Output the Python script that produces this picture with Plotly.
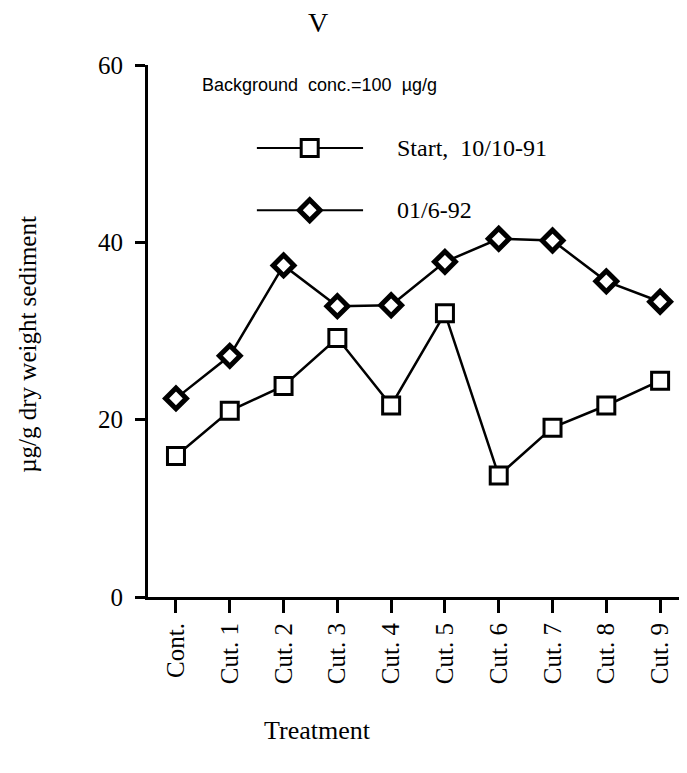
import plotly.graph_objects as go

categories = ["Cont.", "Cut. 1", "Cut. 2", "Cut. 3", "Cut. 4", "Cut. 5", "Cut. 6", "Cut. 7", "Cut. 8", "Cut. 9"]
start_vals = [15.9, 21.0, 23.8, 29.2, 21.6, 32.0, 13.7, 19.1, 21.6, 24.4]
june_vals = [22.4, 27.2, 37.4, 32.8, 32.9, 37.8, 40.4, 40.2, 35.6, 33.3]
series_names = ["Start,  10/10-91", "01/6-92"]
y_ticks = [0, 20, 40, 60]

serif = "Liberation Serif, Times New Roman, serif"
sans = "Liberation Sans, Arial, sans-serif"

xpos = list(range(len(categories)))

fig = go.Figure()
fig.add_trace(go.Scatter(
    x=xpos, y=start_vals, mode="lines+markers", name=series_names[0],
    line=dict(color="black", width=2.5),
    marker=dict(symbol="square", size=17, color="white", line=dict(color="black", width=3)),
    showlegend=False))
fig.add_trace(go.Scatter(
    x=xpos, y=june_vals, mode="lines+markers", name=series_names[1],
    line=dict(color="black", width=2.5),
    marker=dict(symbol="diamond", size=16, color="white", line=dict(color="black", width=5)),
    showlegend=False))

# custom legend samples on an overlay axis (0..1 fractions of the plot area)
leg_y = [0.844, 0.727]
symbols = ["square", "diamond"]
msize = [17, 16]
mlw = [3, 5]
for i in range(2):
    fig.add_trace(go.Scatter(
        x=[0.202, 0.399], y=[leg_y[i], leg_y[i]], mode="lines",
        line=dict(color="black", width=2), xaxis="x2", yaxis="y2",
        showlegend=False, hoverinfo="skip"))
    fig.add_trace(go.Scatter(
        x=[0.300], y=[leg_y[i]], mode="markers",
        marker=dict(symbol=symbols[i], size=msize[i], color="white", line=dict(color="black", width=mlw[i])),
        xaxis="x2", yaxis="y2", showlegend=False, hoverinfo="skip"))
    fig.add_annotation(x=0.458, y=leg_y[i], xref="x2", yref="y2", text=series_names[i],
                       showarrow=False, xanchor="left", yanchor="middle",
                       font=dict(family=serif, size=24, color="black"))

fig.add_annotation(x=0.0965, y=0.962, xref="paper", yref="paper",
                   text="Background  conc.=100  µg/g", showarrow=False,
                   xanchor="left", yanchor="middle",
                   font=dict(family=sans, size=18, color="black"))

fig.add_annotation(x=-0.2226, y=0.474, xref="paper", yref="paper",
                   text="µg/g dry weight sediment", textangle=-90, showarrow=False,
                   xanchor="center", yanchor="middle",
                   font=dict(family=serif, size=25, color="black"))
fig.add_annotation(x=0.315, y=-0.25, xref="paper", yref="paper",
                   text="Treatment", showarrow=False,
                   xanchor="center", yanchor="middle",
                   font=dict(family=serif, size=26, color="black"))

fig.update_layout(
    width=679, height=765,
    margin=dict(l=140, r=0, t=57, b=176),
    paper_bgcolor="white", plot_bgcolor="white",
    title=dict(text="V", x=310 / 679, y=1 - 14 / 765, xanchor="center", yanchor="middle",
               font=dict(family=serif, size=28, color="black")),
    xaxis=dict(range=[-0.52, 9.5], tickmode="array", tickvals=xpos, ticktext=categories,
               tickangle=-90, ticks="outside", ticklen=13, tickwidth=3, tickcolor="black",
               showline=True, linewidth=3, linecolor="black", showgrid=False, zeroline=False,
               tickfont=dict(family=serif, size=25, color="black")),
    yaxis=dict(range=[0, 60], tickmode="array", tickvals=y_ticks,
               ticks="outside", ticklen=10, tickwidth=3, tickcolor="black",
               ticklabelstandoff=7,
               showline=True, linewidth=3, linecolor="black", showgrid=False, zeroline=False,
               tickfont=dict(family=serif, size=25, color="black")),
    xaxis2=dict(range=[0, 1], overlaying="x", visible=False, fixedrange=True),
    yaxis2=dict(range=[0, 1], overlaying="y", visible=False, fixedrange=True),
)

fig.write_html("out.html")
